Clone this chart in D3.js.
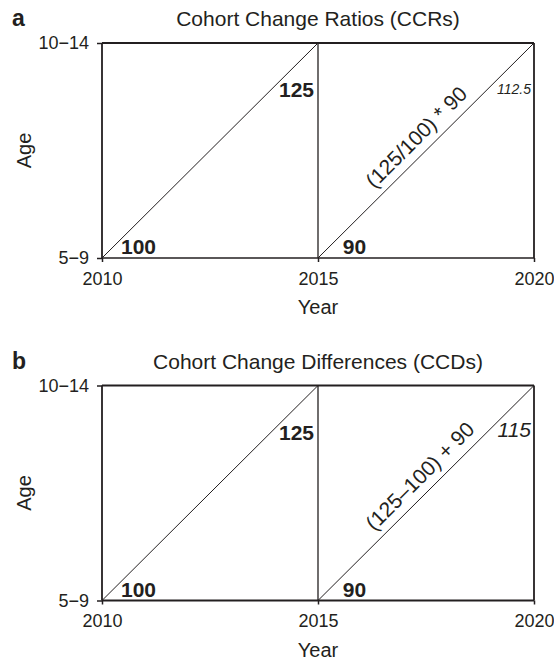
<!DOCTYPE html>
<html>
<head>
<meta charset="utf-8">
<script src="https://cdn.jsdelivr.net/npm/d3@7"></script>
<style>
  body { margin: 0; background: #fff; }
  svg { display: block; font-family: "Liberation Sans", Arial, sans-serif; }
</style>
</head>
<body>
<svg id="chart" width="554" height="662"></svg>
<script>
// Data
const years = [2010, 2015, 2020]
const ageGroups = ["5\u22129", "10\u221214"]
const panelLetters = ["a", "b"]
const panelTitles = ["Cohort Change Ratios (CCRs)", "Cohort Change Differences (CCDs)"]
const startPops = [100, 90]          // age 5-9 in 2010 and 2015
const agedPop = 125                  // age 10-14 in 2015
const formulas = ["(125/100) * 90", "(125\u2013100) + 90"]
const projected = ["112.5", "115"]
const projectedSize = [14, 21]

const ink = "#231f20"
const svg = d3.select("#chart")

const x = d3.scaleLinear().domain([2010, 2020]).range([102, 534])
const y = d3.scalePoint().domain(ageGroups).range([258, 43])

panelLetters.forEach((letter, i) => {
    const g = svg.append("g").attr("transform", `translate(0, ${i * 342.5})`)

    g.append("text").text(letter)
        .attr("x", 12).attr("y", 26)
        .attr("font-size", 23).attr("font-weight", "bold").attr("fill", ink)

    g.append("text").text(panelTitles[i])
        .attr("x", x(2015)).attr("y", 26)
        .attr("text-anchor", "middle").attr("font-size", 21).attr("fill", ink)

    // axes
    const yAxis = g.append("g")
        .attr("transform", `translate(${x(2010)},0)`)
        .call(d3.axisLeft(y).tickSize(5).tickPadding(8))
    const xAxis = g.append("g")
        .attr("transform", `translate(0,${y(ageGroups[0])})`)
        .call(d3.axisBottom(x).tickValues(years).tickFormat(d3.format("d")).tickSize(4).tickPadding(10))
    ;[yAxis, xAxis].forEach(a => {
        a.select(".domain").remove()
        a.selectAll(".tick line").attr("stroke", ink).attr("stroke-width", 1.5)
        a.selectAll(".tick text").attr("fill", ink).attr("font-size", 18)
            .attr("font-family", "Liberation Sans, Arial, sans-serif")
    })

    // frame
    const yb = y(ageGroups[0]), yt = y(ageGroups[1])
    g.append("line").attr("x1", x(2010)).attr("x2", x(2020)).attr("y1", yt).attr("y2", yt)
        .attr("stroke", ink).attr("stroke-width", 2)
    g.append("line").attr("x1", x(2010)).attr("x2", x(2020)).attr("y1", yb).attr("y2", yb)
        .attr("stroke", ink).attr("stroke-width", i === 0 ? 1.6 : 2.2)
    g.selectAll(".vert").data(years).enter().append("line")
        .attr("x1", d => x(d)).attr("x2", d => x(d)).attr("y1", yt).attr("y2", yb)
        .attr("stroke", ink).attr("stroke-width", d => d === 2015 ? 1.3 : 1.8)

    // cohort diagonals
    g.selectAll(".diag").data(years.slice(0, 2)).enter().append("line")
        .attr("x1", d => x(d)).attr("y1", yb)
        .attr("x2", d => x(d + 5)).attr("y2", yt)
        .attr("stroke", ink).attr("stroke-width", 1)

    // starting populations
    g.selectAll(".start").data(startPops).enter().append("text")
        .text(d => d)
        .attr("x", (d, j) => x(years[j]) + 36.5).attr("y", yb - 4)
        .attr("text-anchor", "middle").attr("font-size", 21).attr("font-weight", "bold").attr("fill", ink)

    g.append("text").text(agedPop)
        .attr("x", x(2015) - 4).attr("y", yt + 54)
        .attr("text-anchor", "end").attr("font-size", 21).attr("font-weight", "bold").attr("fill", ink)

    g.append("text").text(projected[i])
        .attr("x", x(2020) - 3).attr("y", yt + 51)
        .attr("text-anchor", "end").attr("font-size", projectedSize[i])
        .attr("font-style", "italic").attr("fill", ink)

    // formula along the second diagonal
    const mx = (x(2015) + x(2020)) / 2, my = (yb + yt) / 2
    const angle = Math.atan2(yt - yb, x(2020) - x(2015)) * 180 / Math.PI
    g.append("text").text(formulas[i])
        .attr("transform", `translate(${mx},${my}) rotate(${angle})`)
        .attr("x", -64).attr("y", -9)
        .attr("font-size", 21).attr("fill", ink)
})

svg.selectAll(".ylab").data(panelLetters).enter().append("text")
    .text("Age")
    .attr("transform", (d, i) => `translate(31,${(y(ageGroups[0]) + y(ageGroups[1])) / 2 + i * 342.5}) rotate(-90)`)
    .attr("text-anchor", "middle").attr("font-size", 20).attr("fill", ink)

svg.selectAll(".xlab").data(panelLetters).enter().append("text")
    .text("Year")
    .attr("x", x(2015)).attr("y", (d, i) => 314 + i * 342.5)
    .attr("text-anchor", "middle").attr("font-size", 20).attr("fill", ink)
</script>
</body>
</html>
